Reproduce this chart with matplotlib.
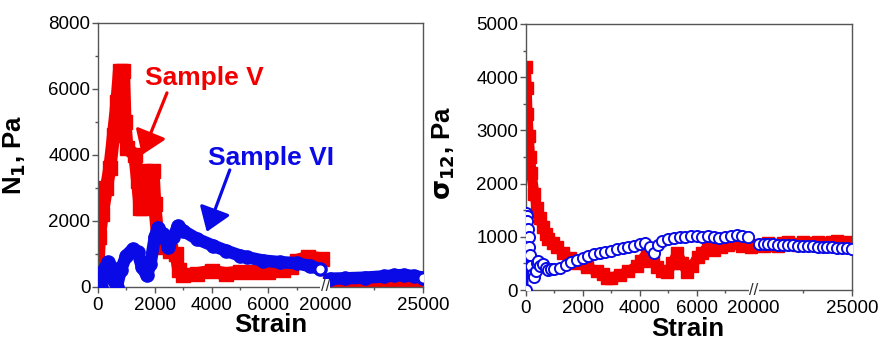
import numpy as np
import matplotlib
matplotlib.use("Agg")
import matplotlib.pyplot as plt
from matplotlib.scale import FuncScale

plt.rcParams["font.family"] = ["Liberation Sans", "DejaVu Sans"]

RED = "#f20000"
BLUE = "#0a0ae6"
BREAK_LO, BREAK_HI = 8000, 20000
SQUEEZE = 0.69  # right segment (20000-25000) is drawn compressed

# --- N1 panel (left) ---
n1_red_x = [0, 50, 150, 300, 420, 550, 670, 760, 900, 950, 1020, 1300, 1400, 1480, 1600,
            1656, 1940, 2000, 2115, 2300, 2540, 2750, 2850, 3000, 3500, 4000, 4500, 5000,
            5500, 6000, 6500, 6800, 7000, 7400, 7900]
n1_red_y = [600, 1500, 2200, 3000, 3600, 4600, 5600, 6550, 6550, 5000, 4200, 4000, 3200, 2400,
            2400, 3500, 3500, 2500, 1400, 1200, 1100, 1000, 500, 350, 400, 480, 400, 450,
            450, 450, 500, 600, 800, 900, 850]
n1_red_x2 = [20250, 21000, 22000, 23000, 24000, 25000]
n1_red_y2 = [170, 150, 140, 120, 100, 100]

n1_blue_x = [100, 200, 350, 450, 550, 660, 800, 1000, 1230, 1400, 1550, 1720, 1850, 2000,
             2110, 2300, 2470, 2650, 2820, 3000, 3500, 4050, 4500, 5000, 5250, 5800, 6410,
             7000, 7470, 7820]
n1_blue_y = [0, 500, 750, 600, 200, 0, 500, 950, 1150, 1050, 600, 350, 700, 1500,
             1800, 1600, 1200, 1500, 1850, 1700, 1450, 1250, 1100, 950, 900, 800, 750,
             720, 630, 540]
n1_blue_x2 = [20250, 21000, 22000, 23000, 23500, 24000, 24500, 25000]
n1_blue_y2 = [250, 260, 280, 320, 350, 360, 330, 280]

# --- sigma12 panel (right) ---
s_red_x = [0, 30, 60, 100, 150, 200, 300, 400, 500, 600, 700, 800, 950, 1100, 1300, 1550,
           1800, 2150, 2500, 2700, 2850, 3000, 3300, 3600, 3900, 4050, 4260, 4450, 4620,
           4800, 4970, 5150, 5320, 5500, 5670, 5850, 6030, 6200, 6380, 6600, 6840, 7100,
           7300, 7600, 7900]
s_red_y = [4200, 3800, 3300, 2900, 2500, 2200, 1800, 1550, 1350, 1180, 1050, 950, 880, 800,
           700, 600, 500, 430, 350, 300, 220, 230, 280, 350, 450, 550, 700, 550, 430,
           350, 330, 500, 700, 500, 330, 450, 620, 700, 810, 750, 810, 850, 880, 830, 810]
s_red_x2 = [20250, 20500, 20750, 21000, 21250, 21500, 21750, 22000, 22250, 22500, 22750,
            23000, 23250, 23500, 23750, 24000, 24250, 24500, 24750, 25000]
s_red_y2 = [850, 820, 880, 850, 830, 880, 900, 870, 850, 900, 880, 850, 900, 870, 880,
            900, 920, 880, 900, 850]

s_blue_x = [0, 20, 40, 60, 80, 100, 130, 160, 200, 250, 300, 350, 400, 450, 500, 600, 700,
            800, 900, 1000, 1200, 1400, 1600, 1800, 2000, 2200, 2400, 2600, 2800, 3000,
            3200, 3400, 3600, 3800, 4000, 4200, 4350, 4500, 4650, 4800, 5000, 5200, 5400,
            5600, 5800, 6000, 6200, 6400, 6600, 6800, 7000, 7200, 7400, 7600, 7800]
s_blue_y = [0, 1450, 1400, 1300, 1150, 1000, 800, 650, 450, 300, 250, 350, 500, 550, 450,
            480, 420, 380, 400, 400, 420, 470, 520, 570, 610, 640, 670, 700, 720, 740,
            770, 790, 800, 830, 860, 880, 800, 700, 850, 930, 950, 970, 990, 1000, 1010,
            1020, 1000, 1010, 990, 980, 1000, 1020, 1030, 1010, 990]
s_blue_x2 = [20250, 20500, 20750, 21000, 21250, 21500, 21750, 22000, 22250, 22500, 22750,
             23000, 23250, 23500, 23750, 24000, 24250, 24500, 24750, 25000]
s_blue_y2 = [870, 870, 865, 860, 855, 850, 845, 840, 835, 830, 825, 820, 815, 810, 805,
             800, 795, 790, 785, 780]

x_ticks = [0, 2000, 4000, 6000, 20000, 25000]
x_minor = [1000, 3000, 5000, 7000, 22500]


def fwd(x):
    x = np.asarray(x, float)
    return np.where(x <= BREAK_LO, x,
                    np.where(x >= BREAK_HI, BREAK_LO + (x - BREAK_HI) * SQUEEZE, BREAK_LO))


def inv(y):
    y = np.asarray(y, float)
    return np.where(y <= BREAK_LO, y, BREAK_HI + (y - BREAK_LO) / SQUEEZE)


def style_axes(ax, ymax, ystep, yminor):
    ax.set_xscale(FuncScale(ax, (fwd, inv)))
    ax.set_xlim(0, 25000)
    ax.set_ylim(0, ymax)
    ax.set_xticks(x_ticks)
    ax.set_xticklabels([str(t) for t in x_ticks])
    ax.set_xticks(x_minor, minor=True)
    ax.set_yticks(np.arange(0, ymax + 1, ystep))
    ax.set_yticks(np.arange(yminor, ymax, ystep), minor=True)
    for sp in ax.spines.values():
        sp.set_color("#555555"); sp.set_linewidth(1.0)
    ax.tick_params(which="major", direction="out", length=4, width=1, color="#555555",
                   labelsize=13.5, pad=1.5)
    ax.tick_params(which="minor", direction="out", length=2.5, width=1, color="#555555")
    ax.tick_params(axis="x", pad=3)
    ax.text(BREAK_LO, 0, "//", transform=ax.get_xaxis_transform(), ha="center", va="center",
            fontsize=12, color="#333333", clip_on=False,
            bbox=dict(facecolor="white", edgecolor="none", pad=0.2))


def band(ax, x, y, color, marker, lw, ms, mfc, mew, z):
    ax.plot(x, y, color=color, lw=lw, marker=marker, ms=ms, mfc=mfc, mec=color, mew=mew,
            solid_joinstyle="round", solid_capstyle="butt", zorder=z)


def end_circle(ax, x, y, ms):
    # open marker at the last point of a segment, as in the original figure
    ax.plot(x[-1:], y[-1:], "o", ms=ms, mfc="white", mec=BLUE, mew=1.2, zorder=4)


ARROW = "-|>,head_length=0.65,head_width=0.45"

fig = plt.figure(figsize=(8.82, 3.42), dpi=100)
ax1 = fig.add_axes([0.111, 0.161, 0.369, 0.772])
ax2 = fig.add_axes([0.596, 0.152, 0.370, 0.778])

# left: N1
for xs, ys in ((n1_red_x, n1_red_y), (n1_red_x2, n1_red_y2)):
    band(ax1, xs, ys, RED, "s", 9.5, 9.5, RED, 1, 2)
for xs, ys in ((n1_blue_x, n1_blue_y), (n1_blue_x2, n1_blue_y2)):
    band(ax1, xs, ys, BLUE, "o", 9, 9.5, BLUE, 1, 3)
    end_circle(ax1, xs, ys, 7)
style_axes(ax1, 8000, 2000, 1000)
ax1.set_xlabel("Strain", fontsize=18.5, fontweight="bold")
ax1.xaxis.set_label_coords(0.53, -0.10)
ax1.set_ylabel(r"N$_\mathbf{1}$, Pa", fontsize=18.5, fontweight="bold")
ax1.yaxis.set_label_coords(-0.215, 0.5)

ax1.text(1656, 6120, "Sample V", color=RED, fontsize=19, fontweight="bold",
         ha="left", va="baseline")
ax1.text(3877, 3700, "Sample VI", color=BLUE, fontsize=19, fontweight="bold",
         ha="left", va="baseline", clip_on=False)
ax1.annotate("", xy=(1550, 4000), xytext=(2430, 5880),
             arrowprops=dict(arrowstyle=ARROW, color=RED, lw=2.3, mutation_scale=22,
                             shrinkA=0, shrinkB=0))
ax1.annotate("", xy=(3830, 1670), xytext=(4640, 3545),
             arrowprops=dict(arrowstyle=ARROW, color=BLUE, lw=2.3, mutation_scale=22,
                             shrinkA=0, shrinkB=0))

# right: sigma12
for xs, ys in ((s_red_x, s_red_y), (s_red_x2, s_red_y2)):
    band(ax2, xs, ys, RED, "s", 7.5, 8.5, RED, 1, 2)
for xs, ys in ((s_blue_x, s_blue_y), (s_blue_x2, s_blue_y2)):
    band(ax2, xs, ys, BLUE, "o", 4, 8, "white", 1.4, 3)
    end_circle(ax2, xs, ys, 8)
style_axes(ax2, 5000, 1000, 500)
ax2.set_xlabel("Strain", fontsize=18.5, fontweight="bold")
ax2.xaxis.set_label_coords(0.497, -0.10)
ax2.set_ylabel(r"$\mathbf{\sigma}_{\mathbf{12}}$, Pa", fontsize=18.5, fontweight="bold")
ax2.yaxis.set_label_coords(-0.21, 0.515)

fig.savefig("out.png", dpi=100)
